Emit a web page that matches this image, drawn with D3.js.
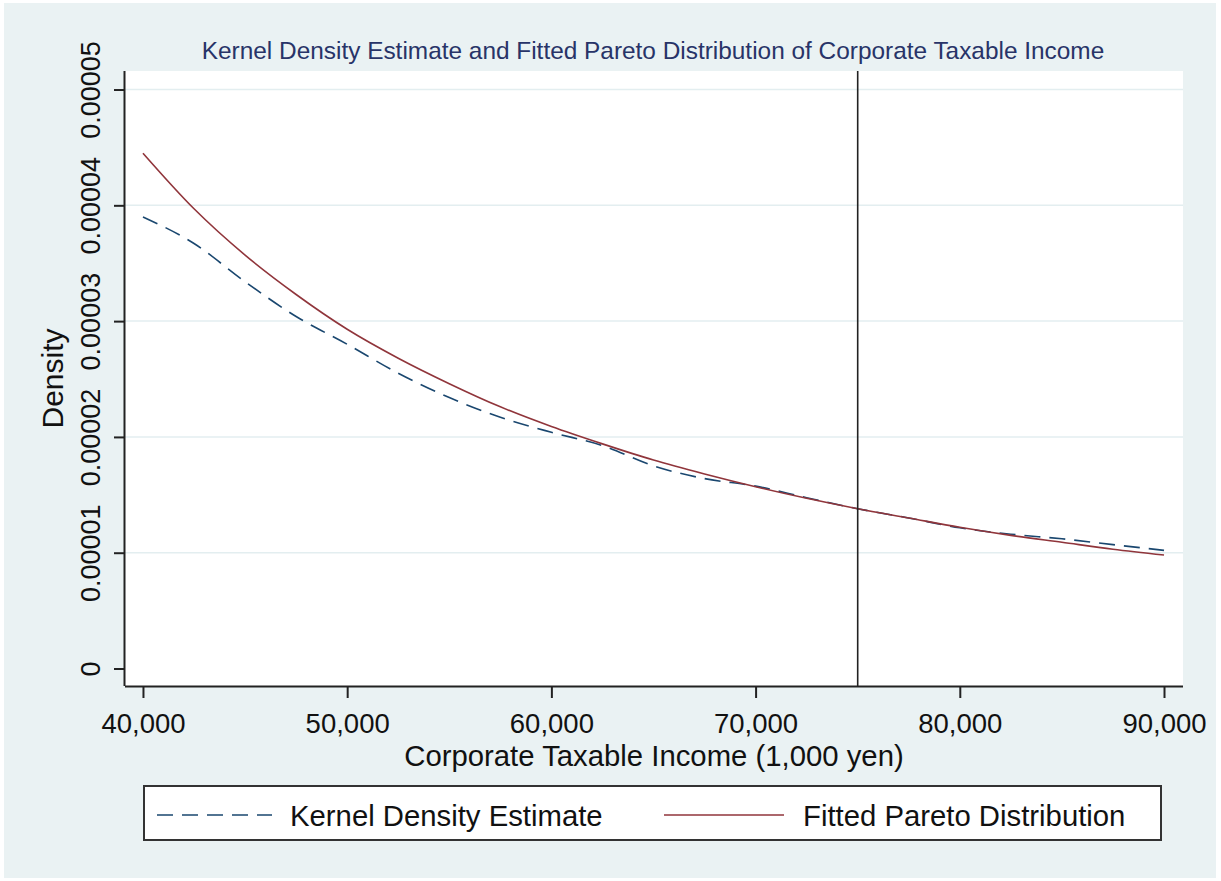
<!DOCTYPE html>
<html>
<head>
<meta charset="utf-8">
<script src="https://cdn.jsdelivr.net/npm/d3@7"></script>
<style>
  body { margin: 0; background: #fff; }
  text { font-family: Arial, "Liberation Sans", sans-serif; }
</style>
</head>
<body>
<div id="chart"></div>
<script>
// income grid (1,000 yen)
const incomes = [40000, 42500, 45000, 47500, 50000, 52500, 55000, 57500, 60000, 62500, 65000,
  67500, 70000, 72500, 75000, 77500, 80000, 82500, 85000, 87500, 90000]
// densities in units of 1e-5
const kernelDensity = [3.90, 3.67, 3.34, 3.04, 2.80, 2.55, 2.34, 2.17, 2.04, 1.925, 1.75,
  1.64, 1.575, 1.475, 1.38, 1.30, 1.215, 1.16, 1.12, 1.07, 1.02]
const paretoDensity = [4.45, 3.97, 3.57, 3.23, 2.93, 2.68, 2.46, 2.26, 2.09, 1.94, 1.80,
  1.68, 1.57, 1.47, 1.38, 1.30, 1.22, 1.15, 1.09, 1.03, 0.98]
const xTicks = [40000, 50000, 60000, 70000, 80000, 90000]
const yTicks = [0, 0.00001, 0.00002, 0.00003, 0.00004, 0.00005]
const yTickLabels = ["0", "0.00001", "0.00002", "0.00003", "0.00004", "0.00005"]
const cutoff = 75000

const chartTitle = "Kernel Density Estimate and Fitted Pareto Distribution of Corporate Taxable Income"
const xTitle = "Corporate Taxable Income (1,000 yen)"
const yTitle = "Density"
const seriesNames = ["Kernel Density Estimate", "Fitted Pareto Distribution"]

const W = 1221, H = 881
const plot = { left: 125, right: 1183, top: 71, bottom: 686 }

const svg = d3.select("#chart").append("svg")
  .attr("width", W).attr("height", H)

// outer background
svg.append("rect")
  .attr("x", 4).attr("y", 3)
  .attr("width", 1212).attr("height", 875)
  .attr("fill", "#EAF2F3")

svg.append("rect")
  .attr("x", plot.left).attr("y", plot.top)
  .attr("width", plot.right - plot.left).attr("height", plot.bottom - plot.top)
  .attr("fill", "#fff")

const x = d3.scaleLinear().domain([39120, 90930]).range([plot.left, plot.right])
const y = d3.scaleLinear().domain([-0.00000151, 0.0000516]).range([plot.bottom, plot.top])

// gridlines
svg.append("g").selectAll("line")
  .data(yTicks.filter(d => d > 0))
  .join("line")
  .attr("x1", plot.left).attr("x2", plot.right)
  .attr("y1", d => y(d)).attr("y2", d => y(d))
  .attr("stroke", "#E3EEF0").attr("stroke-width", 1.5)

// series
const line = d3.line()
  .x((d, i) => x(incomes[i]))
  .y(d => y(d * 1e-5))
  .curve(d3.curveMonotoneX)

svg.append("path")
  .datum(kernelDensity)
  .attr("d", line)
  .attr("fill", "none")
  .attr("stroke", "#1A476F")
  .attr("stroke-width", 1.6)
  .attr("stroke-dasharray", "16,9")

svg.append("path")
  .datum(paretoDensity)
  .attr("d", line)
  .attr("fill", "none")
  .attr("stroke", "#90353B")
  .attr("stroke-width", 1.6)

// cutoff line
svg.append("line")
  .attr("x1", x(cutoff)).attr("x2", x(cutoff))
  .attr("y1", plot.top).attr("y2", plot.bottom)
  .attr("stroke", "#222").attr("stroke-width", 1.6)

// axes
const xAxis = d3.axisBottom(x)
  .tickValues(xTicks)
  .tickSize(12)
  .tickFormat(d3.format(","))

const gx = svg.append("g")
  .attr("transform", `translate(0,${plot.bottom})`)
  .call(xAxis)
gx.select(".domain").attr("d", `M${plot.left},0.5H${plot.right}`)
  .attr("stroke", "#222").attr("stroke-width", 2)
gx.selectAll(".tick line").attr("stroke", "#222").attr("stroke-width", 2)
gx.selectAll(".tick text")
  .attr("y", 47)
  .attr("dy", null)
  .attr("fill", "#111")
  .style("font-size", "27.5px")
  .style("font-family", "Arial, 'Liberation Sans', sans-serif")

const yAxis = d3.axisLeft(y)
  .tickValues(yTicks)
  .tickSize(11)
  .tickFormat((d, i) => yTickLabels[i])

const gy = svg.append("g")
  .attr("transform", `translate(${plot.left},0)`)
  .call(yAxis)
gy.select(".domain").attr("d", `M-0.5,${plot.top}V${plot.bottom}`)
  .attr("stroke", "#222").attr("stroke-width", 2)
gy.selectAll(".tick line").attr("stroke", "#222").attr("stroke-width", 2)
gy.selectAll(".tick text")
  .attr("x", null).attr("dy", null)
  .attr("transform", "translate(-25,0) rotate(-90)")
  .attr("text-anchor", "middle")
  .attr("fill", "#111")
  .style("font-size", "27px")
  .style("font-family", "Arial, 'Liberation Sans', sans-serif")

// titles
svg.append("text")
  .attr("x", (plot.left + plot.right) / 2 - 1).attr("y", 59)
  .attr("text-anchor", "middle")
  .attr("fill", "#283468")
  .style("font-size", "24.4px")
  .text(chartTitle)

svg.append("text")
  .attr("x", (plot.left + plot.right) / 2).attr("y", 766)
  .attr("text-anchor", "middle")
  .attr("fill", "#111")
  .style("font-size", "29.3px")
  .text(xTitle)

svg.append("text")
  .attr("transform", `translate(63,${(plot.top + plot.bottom) / 2}) rotate(-90)`)
  .attr("text-anchor", "middle")
  .attr("fill", "#111")
  .style("font-size", "30px")
  .text(yTitle)

// legend
const legend = svg.append("g")
legend.append("rect")
  .attr("x", 144).attr("y", 786)
  .attr("width", 1017).attr("height", 54)
  .attr("fill", "#fff").attr("stroke", "#333").attr("stroke-width", 2)

const legendItems = [
  { name: seriesNames[0], color: "#1A476F", dash: "16,9", x0: 157, x1: 272, tx: 290 },
  { name: seriesNames[1], color: "#90353B", dash: null, x0: 664, x1: 784, tx: 803 }
]
legendItems.forEach(item => {
  legend.append("line")
    .attr("x1", item.x0).attr("x2", item.x1)
    .attr("y1", 815).attr("y2", 815)
    .attr("stroke", item.color).attr("stroke-width", 1.6)
    .attr("stroke-dasharray", item.dash)
  legend.append("text")
    .attr("x", item.tx).attr("y", 826)
    .attr("fill", "#111")
    .style("font-size", "29.3px")
    .text(item.name)
})
</script>
</body>
</html>
